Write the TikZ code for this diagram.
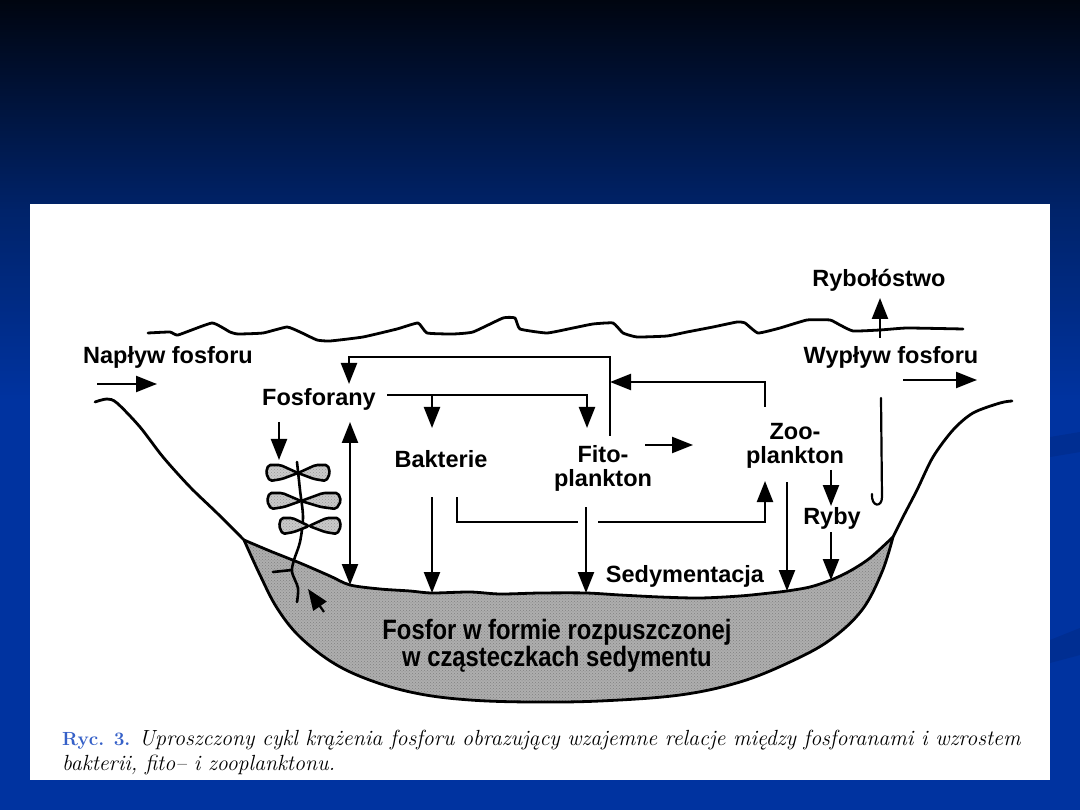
\documentclass[tikz,border=0pt]{standalone}
\usepackage{fontspec}
\usetikzlibrary{arrows.meta,patterns}
\newfontfamily\lab{Liberation Sans}
\newfontfamily\condlab{Liberation Sans}[FakeStretch=0.85]
\definecolor{bgtop}{HTML}{000510}
\definecolor{bgmid}{HTML}{00236A}
\definecolor{bgbot}{HTML}{0033A0}
\definecolor{bgdeco}{HTML}{002E92}
\definecolor{capblue}{HTML}{3560C8}
\definecolor{sedgray}{HTML}{AEAEAE}
\definecolor{leafgray}{HTML}{CACACA}
\newcommand\leafpair[5]{%
  \filldraw[leaf] (#1,#2) -- (#1-0.55*#3,#2-#5) -- (#1-0.93*#3,#2-#5) -- (#1-#3,#2) -- (#1-0.88*#3,#2+#5) -- (#1-0.5*#3,#2+0.75*#5) -- cycle;
  \filldraw[leaf] (#1,#2) -- (#1+0.55*#4,#2-#5) -- (#1+0.93*#4,#2-#5) -- (#1+#4,#2) -- (#1+0.88*#4,#2+#5) -- (#1+0.5*#4,#2+0.75*#5) -- cycle;
}
\begin{document}
\begin{tikzpicture}[x=1pt,y=-1pt,
  lbl/.style={font=\lab\bfseries\fontsize{23.5}{24}\selectfont, inner sep=0pt, align=center, text=black},
  ln/.style={line width=2.2pt, draw=black},
  arr/.style={ln, -{Triangle[length=21pt,width=16pt]}},
  darr/.style={ln, {Triangle[length=21pt,width=16pt]}-{Triangle[length=21pt,width=16pt]}},
  shore/.style={line width=2.8pt, draw=black, line join=round, line cap=round},
  sed/.style={preaction={fill=sedgray}, pattern=crosshatch dots, pattern color=black!50},
  leaf/.style={line width=2.6pt, draw=black, line join=round, rounded corners=2pt, preaction={fill=leafgray}, pattern=crosshatch dots, pattern color=black!40},
  stemline/.style={line width=2.6pt, draw=black, line cap=round}]
\useasboundingbox (0,0) rectangle (1080,810);
% background
\shade[top color=bgtop, bottom color=bgmid] (0,0) rectangle (1080,212);
\shade[top color=bgmid, bottom color=bgbot] (0,211) rectangle (1080,400);
\fill[bgbot] (0,399) rectangle (1080,810);
\fill[bgdeco] (1050,437) -- (1080,432) -- (1080,452) -- (1050,457) -- cycle;
\fill[bgdeco] (1050,640) -- (1080,628) -- (1080,655) -- (1050,663) -- cycle;
\fill[white] (30,204) rectangle (1050,780);

% sediment
\path[sed] plot[smooth, tension=0.5] coordinates {(244,540) (270,551) (300,563) (330,576) (350,585) (380,589) (410,591) (432,593) (470,592) (500,594) (540,593) (586,593) (620,595) (660,597) (700,598) (740,596) (770,593) (787,591) (810,587) (831,580) (850,571) (870,558) (893,537)}
  -- plot[smooth, tension=0.6] coordinates {(893,537) (882,572) (862,610) (830,640) (790,662) (740,682) (680,695) (600,701) (530,702) (470,700) (420,694) (375,682) (335,664) (300,637) (277,608) (260,575) (244,540)} -- cycle;
\draw[shore] plot[smooth, tension=0.5] coordinates {(244,540) (270,551) (300,563) (330,576) (350,585) (380,589) (410,591) (432,593) (470,592) (500,594) (540,593) (586,593) (620,595) (660,597) (700,598) (740,596) (770,593) (787,591) (810,587) (831,580) (850,571) (870,558) (893,537)};
% banks (continuing into sediment outline)
\draw[shore] plot[smooth, tension=0.5] coordinates {(95,402) (107,399) (117,403) (140,427) (163,457) (190,487) (217,513) (244,540)}
  -- plot[smooth, tension=0.6] coordinates {(244,540) (260,575) (277,608) (300,637) (335,664) (375,682) (420,694) (470,700) (530,702) (600,701) (680,695) (740,682) (790,662) (830,640) (862,610) (882,572) (893,537)}
  -- plot[smooth, tension=0.5] coordinates {(893,537) (903,517) (917,490) (933,457) (953,430) (973,413) (1000,403) (1012,401)};
% water surface
\draw[shore] plot[smooth, tension=0.25] coordinates {(148,333) (170,332) (178,335) (212,323) (230,332) (238,334) (263,333) (287,327) (300,332) (317,340) (330,341) (363,337) (397,329) (418,323) (427,333) (453,334) (473,332) (503,318) (515,318) (520,329) (547,333) (573,328) (593,324) (613,323) (623,333) (637,337) (667,336) (687,332) (713,327) (737,322) (745,323) (758,333) (780,328) (807,320) (830,320) (840,325) (853,331) (880,330) (907,328) (963,329)};

% labels
\node[lbl] (ryb) at (879,280) {Rybołóstwo};
\node[lbl] (naplyw) at (168,357) {Napływ fosforu};
\node[lbl] (wyplyw) at (891,357) {Wypływ fosforu};
\node[lbl] (fosf) at (319,399) {Fosforany};
\node[lbl] (bakt) at (441,459) {Bakterie};
\node[lbl] (fito) at (603,468) {Fito-\\plankton};
\node[lbl] (zoo) at (795,446) {Zoo-\\plankton};
\node[lbl] (ryby) at (832,518) {Ryby};
\node[lbl] (sedym) at (685,576) {Sedymentacja};
\node[font=\condlab\bfseries\fontsize{28}{24.5}\selectfont, inner sep=0pt, align=center] (fsed) at (557,646) {Fosfor w formie rozpuszczonej\\w cząsteczkach sedymentu};

% plant
\draw[stemline] plot[smooth] coordinates {(297,462) (300,490) (303,517) (300,542) (294,560) (292,572) (298,588) (297,602)};
\draw[stemline] (292,570) -- (273,572);
\leafpair{298}{473}{32}{32}{8}
\leafpair{301}{501}{34}{40}{8}
\leafpair{309}{526}{30}{32}{8}

% coordinates for connector ends
\coordinate (nA) at (97,384); \coordinate (nB) at (157,384);
\coordinate (wA) at (903,380); \coordinate (wB) at (977,380);
\coordinate (rA) at (880,338); \coordinate (rB) at (880,298);
\coordinate (hA) at (881,398); \coordinate (hB) at (882,497); \coordinate (hC) at (872,494);
\coordinate (pA) at (279,422); \coordinate (pB) at (279,460);
\coordinate (bdA) at (350,422); \coordinate (bdB) at (350,585);
\coordinate (t1) at (610,436); \coordinate (t2) at (610,357); \coordinate (t3) at (349,357); \coordinate (t4) at (349,384);
\coordinate (f1) at (387,395); \coordinate (f2) at (587,395); \coordinate (f3) at (587,428); \coordinate (f4) at (432,395); \coordinate (f5) at (432,428);
\coordinate (z1) at (765,407); \coordinate (z2) at (765,382); \coordinate (z3) at (610,382);
\coordinate (fz1) at (645,445); \coordinate (fz2) at (693,445);
\coordinate (b1) at (457,497); \coordinate (b2) at (457,522); \coordinate (b3) at (578,522);
\coordinate (b4) at (598,522); \coordinate (b5) at (765,522); \coordinate (b6) at (765,481);
\coordinate (bs1) at (432,497); \coordinate (bs2) at (432,593);
\coordinate (fs1) at (586,507); \coordinate (fs2) at (586,593);
\coordinate (zs1) at (787,482); \coordinate (zs2) at (787,591);
\coordinate (zr1) at (831,470); \coordinate (zr2) at (831,506);
\coordinate (rs1) at (831,532); \coordinate (rs2) at (831,580);
\coordinate (sp1) at (324,612); \coordinate (sp2) at (308,589);

% connectors
\draw[arr] (nA) -- (nB);
\draw[arr] (wA) -- (wB);
\draw[arr] (rA) -- (rB);
\draw[ln, line cap=round] (hA) -- (hB) .. controls (882,508) and (871,507) .. (hC);
\draw[arr] (pA) -- (pB);
\draw[darr] (bdA) -- (bdB);
\draw[arr] (t1) -- (t2) -- (t3) -- (t4);
\draw[arr] (f1) -- (f2) -- (f3);
\draw[arr] (f4) -- (f5);
\draw[arr] (z1) -- (z2) -- (z3);
\draw[arr] (fz1) -- (fz2);
\draw[ln] (b1) -- (b2) -- (b3);
\draw[arr] (b4) -- (b5) -- (b6);
\draw[arr] (bs1) -- (bs2);
\draw[arr] (fs1) -- (fs2);
\draw[arr] (zs1) -- (zs2);
\draw[arr] (zr1) -- (zr2);
\draw[arr] (rs1) -- (rs2);
\draw[arr] (sp1) -- (sp2);

% caption
\node[anchor=north west, align=left, inner sep=0pt, font=\fontsize{21.9}{25}\selectfont] (cap) at (62,730)
  {{\fontsize{19}{25}\selectfont\textcolor{capblue}{\textbf{Ryc. 3.}}} \textit{Uproszczony cykl krążenia fosforu obrazujący wzajemne relacje między fosforanami i wzrostem}\\
   \textit{bakterii, fito– i zooplanktonu.}};
\end{tikzpicture}
\end{document}
